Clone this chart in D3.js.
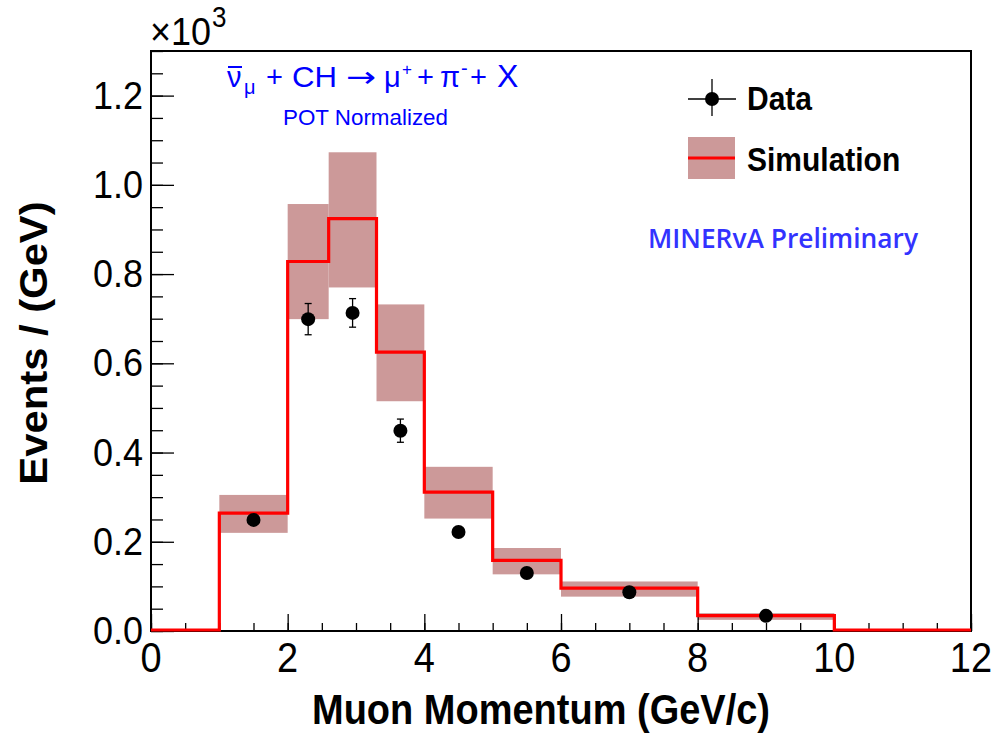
<!DOCTYPE html>
<html>
<head>
<meta charset="utf-8">
<script src="https://cdn.jsdelivr.net/npm/d3@7"></script>
<style>
html,body{margin:0;padding:0;background:#fff;}
svg{display:block;}
text{font-family:"Liberation Sans",Arial,Helvetica,sans-serif;}
</style>
</head>
<body>
<svg id="chart" width="995" height="734"></svg>
<script>
// ---------- data (values in units of 10^3 events / GeV) ----------
const binEdges   = [0, 1, 2, 2.6, 3.3, 4, 5, 6, 8, 10, 12];
const simValues  = [0, 0.262, 0.826, 0.922, 0.623, 0.309, 0.156, 0.094, 0.032, 0];
const simBandLow = [0, 0.220, 0.699, 0.770, 0.515, 0.252, 0.127, 0.077, 0.025, 0];
const simBandHigh= [0, 0.305, 0.957, 1.073, 0.732, 0.368, 0.186, 0.111, 0.040, 0];

const dataX   = [1.5, 2.3, 2.95, 3.65, 4.5, 5.5, 7.0, 9.0];
const dataY   = [0.249, 0.699, 0.713, 0.449, 0.222, 0.130, 0.087, 0.034];
const dataErr = [0.012, 0.035, 0.032, 0.026, 0.012, 0.009, 0.006, 0.004];

const xTickValues = [0, 2, 4, 6, 8, 10, 12];
const yTickValues = [0, 0.2, 0.4, 0.6, 0.8, 1.0, 1.2];
const xMinorTicks = d3.range(0, 12.01, 0.5);
const yMinorTicks = d3.range(0, 1.301, 0.05);

// ---------- layout ----------
const frame = {left: 151, right: 971, top: 51, bottom: 631};
const SY = 1.1; // vertical text stretch seen in the picture

const svg = d3.select("#chart");
const x = d3.scaleLinear().domain([0, 12]).range([frame.left, frame.right]);
const y = d3.scaleLinear().domain([0, 1.3]).range([frame.bottom, frame.top]);

function stretchedText(g, px, py, str, opts = {}) {
  const t = g.append("text")
    .attr("transform", `translate(${px},${py}) scale(1,${SY})`)
    .attr("text-anchor", opts.anchor || "start")
    .attr("font-size", opts.size || 30)
    .attr("font-weight", opts.weight || "normal")
    .attr("fill", opts.fill || "#000");
  if (opts.family) t.style("font-family", opts.family);
  if (opts.textLength) t.attr("textLength", opts.textLength).attr("lengthAdjust", "spacingAndGlyphs");
  t.text(str);
  return t;
}

// ---------- simulation error band ----------
const bins = d3.range(simValues.length).map(i => ({
  x0: binEdges[i], x1: binEdges[i + 1],
  v: simValues[i], lo: simBandLow[i], hi: simBandHigh[i]
}));

svg.append("g").selectAll("rect")
  .data(bins.filter(b => b.hi > b.lo))
  .join("rect")
  .attr("x", b => x(b.x0))
  .attr("width", b => x(b.x1) - x(b.x0))
  .attr("y", b => y(b.hi))
  .attr("height", b => y(b.lo) - y(b.hi))
  .attr("fill", "#cc9999");

// frame
svg.append("rect")
  .attr("x", frame.left).attr("y", frame.top)
  .attr("width", frame.right - frame.left).attr("height", frame.bottom - frame.top)
  .attr("fill", "none").attr("stroke", "#000").attr("stroke-width", 2);

// ---------- axes (ticks inside the frame) ----------
const axX = svg.append("g").attr("transform", `translate(0,${frame.bottom})`);
axX.call(d3.axisBottom(x).tickValues(xMinorTicks).tickSize(-8).tickFormat(""));
axX.call(g => g.select(".domain").remove());
const axXMaj = svg.append("g").attr("transform", `translate(0,${frame.bottom})`);
axXMaj.call(d3.axisBottom(x).tickValues(xTickValues).tickSize(-17).tickFormat(""));
axXMaj.call(g => g.select(".domain").remove());

const axY = svg.append("g").attr("transform", `translate(${frame.left},0)`);
axY.call(d3.axisLeft(y).tickValues(yMinorTicks).tickSize(-12).tickFormat(""));
axY.call(g => g.select(".domain").remove());
const axYMaj = svg.append("g").attr("transform", `translate(${frame.left},0)`);
axYMaj.call(d3.axisLeft(y).tickValues(yTickValues).tickSize(-23).tickFormat(""));
axYMaj.call(g => g.select(".domain").remove());
svg.selectAll(".tick line").attr("stroke", "#000").attr("stroke-width", 1.3);

// ---------- simulation histogram line ----------
const stepPts = bins.map(b => [b.x0, b.v]);
stepPts.push([binEdges[binEdges.length - 1], simValues[simValues.length - 1]]);
const stepLine = d3.line().x(d => x(d[0])).y(d => y(d[1]) - 1).curve(d3.curveStepAfter);
svg.append("path")
  .attr("d", stepLine(stepPts))
  .attr("fill", "none")
  .attr("stroke", "#ff0000")
  .attr("stroke-width", 3.2)
  .attr("stroke-linejoin", "miter");

// tick labels
const labels = svg.append("g");
xTickValues.forEach(v => stretchedText(labels, x(v), 672, d3.format("d")(v), {anchor: "middle", size: 38}));
yTickValues.forEach(v => stretchedText(labels, frame.left - 8, y(v) + 13, d3.format(".1f")(v), {anchor: "end", size: 36}));

// x10^3
const mult = svg.append("g");
stretchedText(mult, 150, 45, "\u00d710", {size: 36});
stretchedText(mult, 212, 27, "3", {size: 26});

// axis titles
stretchedText(svg, 541, 724, "Muon Momentum (GeV/c)", {anchor: "middle", size: 38, weight: "bold"});
svg.append("text")
  .attr("transform", `translate(47,343) rotate(-90) scale(${SY},1)`)
  .attr("text-anchor", "middle")
  .attr("font-size", 38).attr("font-weight", "bold")
  .text("Events / (GeV)");

// ---------- data points ----------
const pts = dataX.map((d, i) => ({x: d, y: dataY[i], e: dataErr[i]}));
const gData = svg.append("g");
gData.selectAll("line.err").data(pts).join("line")
  .attr("x1", d => x(d.x)).attr("x2", d => x(d.x))
  .attr("y1", d => y(d.y - d.e)).attr("y2", d => y(d.y + d.e))
  .attr("stroke", "#000").attr("stroke-width", 1.3);
gData.selectAll("line.capt").data(pts).join("line")
  .attr("x1", d => x(d.x) - 3.5).attr("x2", d => x(d.x) + 3.5)
  .attr("y1", d => y(d.y + d.e)).attr("y2", d => y(d.y + d.e))
  .attr("stroke", "#000").attr("stroke-width", 1.3);
gData.selectAll("line.capb").data(pts).join("line")
  .attr("x1", d => x(d.x) - 3.5).attr("x2", d => x(d.x) + 3.5)
  .attr("y1", d => y(d.y - d.e)).attr("y2", d => y(d.y - d.e))
  .attr("stroke", "#000").attr("stroke-width", 1.3);
gData.selectAll("circle").data(pts).join("circle")
  .attr("cx", d => x(d.x)).attr("cy", d => y(d.y)).attr("r", 7).attr("fill", "#000");

// ---------- process title (TLatex-like pieces) ----------
const titleParts = [
  {t: "\u03bd", x: 227, dy: 0, size: 29, bar: true},
  {t: "\u03bc", x: 244, dy: 7, size: 20},
  {t: "+", x: 266, dy: 0, size: 29},
  {t: "CH", x: 292, dy: 0, size: 29, len: 45},
  {t: "\u2192", x: 346, dy: 0, size: 29, len: 30, fam: "'DejaVu Sans'"},
  {t: "\u03bc", x: 384, dy: 0, size: 29},
  {t: "+", x: 402, dy: -12, size: 17},
  {t: "+", x: 417, dy: 0, size: 29},
  {t: "\u03c0", x: 440, dy: 0, size: 29},
  {t: "-", x: 461, dy: -12, size: 20},
  {t: "+", x: 470, dy: 0, size: 29},
  {t: "X", x: 497, dy: 0, size: 32}
];
const gTitle = svg.append("g").attr("fill", "#0000ff");
titleParts.forEach(p => {
  const t = gTitle.append("text")
    .attr("x", p.x).attr("y", 87 + p.dy)
    .attr("font-size", p.size).attr("fill", "#0000ff").text(p.t);
  if (p.len) t.attr("textLength", p.len).attr("lengthAdjust", "spacingAndGlyphs");
  if (p.fam) t.style("font-family", p.fam);
  if (p.bar) gTitle.append("line").attr("x1", p.x + 1).attr("x2", p.x + 15)
    .attr("y1", 67).attr("y2", 67).attr("stroke", "#0000ff").attr("stroke-width", 2);
});

stretchedText(svg, 283, 125, "POT Normalized", {size: 20, fill: "#0000ff", textLength: 165});

stretchedText(svg, 648, 248, "MINERvA Preliminary",
  {size: 25, weight: 600, fill: "#3333ff", family: "'Open Sans', sans-serif", textLength: 270});

// ---------- legend ----------
const leg = svg.append("g");
leg.append("line").attr("x1", 688).attr("x2", 736).attr("y1", 99).attr("y2", 99).attr("stroke", "#000").attr("stroke-width", 1.3);
leg.append("line").attr("x1", 712).attr("x2", 712).attr("y1", 79).attr("y2", 116).attr("stroke", "#000").attr("stroke-width", 1.3);
leg.append("circle").attr("cx", 712).attr("cy", 99).attr("r", 7).attr("fill", "#000");
stretchedText(leg, 747, 110, "Data", {size: 30, weight: "bold"});

leg.append("rect").attr("x", 688).attr("y", 137).attr("width", 47).attr("height", 42).attr("fill", "#cc9999");
leg.append("line").attr("x1", 688).attr("x2", 735).attr("y1", 158).attr("y2", 158).attr("stroke", "#ff0000").attr("stroke-width", 3.2);
stretchedText(leg, 747, 171, "Simulation", {size: 30, weight: "bold"});
</script>
</body>
</html>
